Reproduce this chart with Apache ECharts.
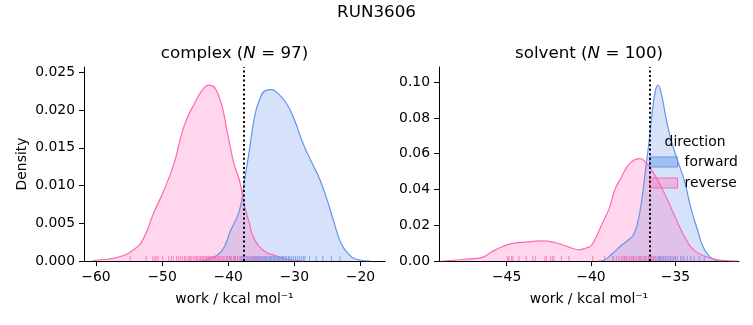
<!DOCTYPE html>
<html><head><meta charset="utf-8">
<script src="https://cdn.jsdelivr.net/npm/echarts@6/dist/echarts.min.js"></script>
<style>html,body{margin:0;padding:0;background:#fff}#c{width:753px;height:325px}</style>
</head><body><div id="c"></div>
<script>
// ---------- data ----------
const suptitle = 'RUN3606';
const panelNames = ['complex', 'solvent'];
const panelN = [97, 100];
const directions = ['forward', 'reverse'];
const xLabel = 'work / kcal mol\u207B\u00B9';
const yLabel = 'Density';

const complexXTicks = [-60, -50, -40, -30, -20];
const complexYTicks = [0, 0.005, 0.010, 0.015, 0.020, 0.025];
const solventXTicks = [-45, -40, -35];
const solventYTicks = [0, 0.02, 0.04, 0.06, 0.08, 0.10];

// KDE curves
const complexFwdX = [-44.5, -43.2, -41.1, -39.6, -38.3, -37.6, -36.8, -36.1, -35.3, -34.3, -33.5, -32.5, -31.2, -30.0, -28.7, -27.4, -26.2, -25.2, -24.1, -23.1, -21.9, -20.3, -18.5];
const complexFwdY = [0, 0.0002, 0.0012, 0.0041, 0.0067, 0.0103, 0.0147, 0.0187, 0.0213, 0.0226, 0.0227, 0.0222, 0.0209, 0.0187, 0.0156, 0.0131, 0.0109, 0.0085, 0.0054, 0.0027, 0.0010, 0.00017, 0];
const complexRevX = [-60.5, -59.9, -56.9, -54.3, -52.8, -51.3, -49.8, -48.2, -46.7, -45.2, -43.7, -42.9, -41.4, -40.1, -39.1, -38.3, -37.6, -36.8, -36.1, -34.5, -33.0, -31.5, -30.0, -28.5];
const complexRevY = [0, 0.0001, 0.00044, 0.0015, 0.0030, 0.0063, 0.0092, 0.0129, 0.0178, 0.0207, 0.0229, 0.0233, 0.0218, 0.0169, 0.0128, 0.0107, 0.0076, 0.0050, 0.0030, 0.0013, 0.00075, 0.0003, 0.0001, 0];
const solventFwdX = [-39.6, -39.3, -38.75, -38.2, -37.8, -37.5, -37.25, -37.0, -36.8, -36.58, -36.38, -36.18, -36.03, -35.85, -35.56, -35.24, -34.85, -34.45, -34.1, -33.7, -33.35, -33.0, -32.7, -32.2];
const solventFwdY = [0, 0.0003, 0.0041, 0.0088, 0.0117, 0.0145, 0.021, 0.034, 0.049, 0.0657, 0.083, 0.0955, 0.0983, 0.094, 0.080, 0.067, 0.0555, 0.0442, 0.030, 0.0175, 0.0075, 0.0028, 0.0008, 0];
const solventRevX = [-48.8, -48.2, -47.0, -46.4, -45.9, -45.3, -44.7, -43.9, -42.9, -42.1, -41.3, -40.7, -40.3, -40.0, -39.7, -39.3, -38.9, -38.6, -38.2, -37.8, -37.4, -37.1, -36.8, -36.4, -36.0, -35.6, -35.2, -34.8, -34.4, -34.0, -33.4, -32.6, -31.8, -31.3];
const solventRevY = [0, 0.0004, 0.0013, 0.0022, 0.0050, 0.0078, 0.0097, 0.0106, 0.0112, 0.0102, 0.0078, 0.0063, 0.0073, 0.0085, 0.0134, 0.0218, 0.030, 0.0396, 0.047, 0.0535, 0.0567, 0.0573, 0.0554, 0.0507, 0.0442, 0.0368, 0.0284, 0.020, 0.0125, 0.0069, 0.0032, 0.0008, 0.0001, 0];

// rug samples
const complexFwdRug = [-40.2, -39.6, -39.0, -38.6, -38.1, -37.8, -37.5, -37.2, -37.0, -36.7, -36.5, -36.2, -36.0, -35.8, -35.6, -35.4, -35.2, -35.0, -34.8, -34.6, -34.4, -34.2, -34.0, -33.8, -33.6, -33.4, -33.2, -33.0, -32.8, -32.6, -32.4, -32.2, -32.0, -31.8, -31.6, -31.4, -31.2, -30.9, -30.7, -30.4, -30.1, -29.8, -29.5, -29.2, -28.9, -28.6, -28.4, -27.7, -26.7, -25.7, -24.4, -23.1];
const complexRevRug = [-54.8, -52.4, -51.4, -51.1, -50.9, -50.6, -49.9, -49.0, -48.6, -48.3, -47.8, -47.5, -47.2, -46.9, -46.6, -46.4, -46.1, -45.9, -45.7, -45.5, -45.2, -45.0, -44.8, -44.6, -44.4, -44.2, -44.0, -43.8, -43.7, -43.5, -43.3, -43.2, -43.0, -42.8, -42.7, -42.5, -42.3, -42.2, -42.0, -41.9, -41.7, -41.5, -41.3, -41.1, -40.9, -40.7, -40.5, -40.2, -40.0, -39.8, -39.5, -39.2, -38.9, -38.6, -38.3, -38.0, -37.6, -37.2, -36.8, -36.3, -35.8, -35.2, -34.5];
const solventFwdRug = [-38.7, -38.0, -37.5, -37.1, -36.8, -36.6, -36.5, -36.4, -36.3, -36.2, -36.1, -36.0, -35.95, -35.9, -35.8, -35.7, -35.6, -35.5, -35.4, -35.3, -35.2, -35.1, -35.0, -34.9, -34.7, -34.5, -34.3, -34.1, -33.9, -33.6, -33.3];
const solventRevRug = [-44.96, -44.86, -44.70, -44.63, -44.27, -43.84, -43.44, -43.28, -42.73, -42.65, -42.39, -42.29, -42.19, -41.75, -41.31, -39.9, -39.2, -38.7, -38.5, -38.35, -38.2, -38.1, -38.0, -37.9, -37.8, -37.7, -37.6, -37.5, -37.4, -37.3, -37.2, -37.1, -37.0, -36.9, -36.8, -36.7, -36.6, -36.5, -36.4, -36.3, -36.2, -36.0, -35.8, -35.6, -35.3, -35.0, -34.6];

// mean-work dotted lines
const complexMarker = -37.7;
const solventMarker = -36.55;

// ---------- chart ----------
const FONT = '"DejaVu Sans", sans-serif';
const BLUE = '#6495ED', PINK = '#FF69B4';
const BLUE_FILL = 'rgba(100,149,237,0.27)', PINK_FILL = 'rgba(255,105,180,0.27)';
const minus = s => String(s).replace('-', '\u2212');
const zip = (xs, ys) => xs.map((x, i) => [x, ys[i]]);
const rug = xs => xs.map(x => [x, 0]);

function xAxis(idx, min, max, ticks) {
  return {
    type: 'value', gridIndex: idx, min: min, max: max,
    name: xLabel, nameLocation: 'middle', nameGap: 31,
    nameTextStyle: { fontFamily: FONT, fontSize: 13.9, color: '#000' },
    axisLine: { show: true, onZero: false, lineStyle: { color: '#000', width: 1 } },
    axisTick: { show: true, length: 5, customValues: ticks, lineStyle: { color: '#000', width: 1 } },
    axisLabel: { customValues: ticks, margin: 9, fontFamily: FONT, fontSize: 13.9, color: '#000', formatter: v => minus(v) },
    splitLine: { show: false }
  };
}
function yAxis(idx, max, ticks, dec, withName) {
  return {
    type: 'value', gridIndex: idx, min: 0, max: max,
    name: withName ? yLabel : '', nameLocation: 'middle', nameGap: 55,
    nameTextStyle: { fontFamily: FONT, fontSize: 13.9, color: '#000' },
    axisLine: { show: true, lineStyle: { color: '#000', width: 1 } },
    axisTick: { show: true, length: 5, customValues: ticks, lineStyle: { color: '#000', width: 1 } },
    axisLabel: { customValues: ticks, margin: 9, fontFamily: FONT, fontSize: 13.9, color: '#000', formatter: v => v.toFixed(dec) },
    splitLine: { show: false }
  };
}
function kde(name, idx, xs, ys, color, fill, marker) {
  const s = {
    name: name, type: 'line', xAxisIndex: idx, yAxisIndex: idx,
    data: zip(xs, ys), symbol: 'none', showSymbol: false, smooth: 0.5,
    lineStyle: { color: color, width: 1.2 }, itemStyle: { color: color },
    areaStyle: { color: fill, opacity: 1, origin: 'start' }, silent: true, z: 2
  };
  if (marker !== undefined) {
    s.markLine = { symbol: 'none', silent: true, label: { show: false }, animation: false,
      lineStyle: { color: '#000', type: [2, 2.6], width: 2 }, data: [{ xAxis: marker }], z: 5 };
  }
  return s;
}
function rugSeries(name, idx, xs, color) {
  return {
    name: name, type: 'scatter', xAxisIndex: idx, yAxisIndex: idx,
    data: rug(xs), symbol: 'rect', symbolSize: [1, 5], symbolOffset: [0, -2.5],
    itemStyle: { color: color, opacity: 0.8 }, silent: true, z: 3
  };
}

const titleStyle = { fontFamily: FONT, fontSize: 16.7, fill: '#000' };
function panelTitle(i) {
  return '{a|' + panelNames[i] + ' (}{i|N}{a| = ' + panelN[i] + ')}';
}
const rich = {
  a: { fontFamily: FONT, fontSize: 16.7, fill: '#000', color: '#000' },
  i: { fontFamily: FONT, fontSize: 16.7, fontStyle: 'italic', fill: '#000', color: '#000' }
};

const chart = echarts.init(document.getElementById('c'), null, { renderer: 'canvas' });
chart.setOption({
  animation: false,
  backgroundColor: '#fff',
  grid: [
    { left: 84, top: 67, width: 301, height: 194 },
    { left: 439, top: 67, width: 300, height: 194 }
  ],
  xAxis: [ xAxis(0, -61.8, -16.3, complexXTicks), xAxis(1, -49, -31.24, solventXTicks) ],
  yAxis: [ yAxis(0, 0.0257, complexYTicks, 3, true), yAxis(1, 0.1085, solventYTicks, 2, false) ],
  legend: {
    orient: 'vertical', left: 649, top: 155, padding: 0, icon: 'rect', itemWidth: 28, itemHeight: 10, itemGap: 7,
    selectedMode: false,
    textStyle: { fontFamily: FONT, fontSize: 13.9, color: '#000', padding: [0, 0, 0, 2] },
    data: [
      { name: directions[0], itemStyle: { color: 'rgba(100,149,237,0.45)', borderColor: BLUE, borderWidth: 1 } },
      { name: directions[1], itemStyle: { color: 'rgba(255,105,180,0.35)', borderColor: PINK, borderWidth: 1 } }
    ]
  },
  graphic: [
    { type: 'text', x: 376.5, y: 13, style: Object.assign({ text: suptitle, align: 'center', verticalAlign: 'middle' }, titleStyle) },
    { type: 'text', x: 234.5, y: 54, style: { text: panelTitle(0), rich: rich, align: 'center', verticalAlign: 'middle' } },
    { type: 'text', x: 589, y: 54, style: { text: panelTitle(1), rich: rich, align: 'center', verticalAlign: 'middle' } },
    { type: 'text', x: 695, y: 142, z: 10, style: { text: 'direction', align: 'center', verticalAlign: 'middle', fontFamily: FONT, fontSize: 13.9, fill: '#000' } }
  ],
  series: [
    kde(directions[0], 0, complexFwdX, complexFwdY, BLUE, BLUE_FILL),
    kde(directions[1], 0, complexRevX, complexRevY, PINK, PINK_FILL, complexMarker),
    rugSeries('complex forward rug', 0, complexFwdRug, BLUE),
    rugSeries('complex reverse rug', 0, complexRevRug, PINK),
    kde(directions[0], 1, solventFwdX, solventFwdY, BLUE, BLUE_FILL),
    kde(directions[1], 1, solventRevX, solventRevY, PINK, PINK_FILL, solventMarker),
    rugSeries('solvent forward rug', 1, solventFwdRug, BLUE),
    rugSeries('solvent reverse rug', 1, solventRevRug, PINK)
  ]
});
</script></body></html>
